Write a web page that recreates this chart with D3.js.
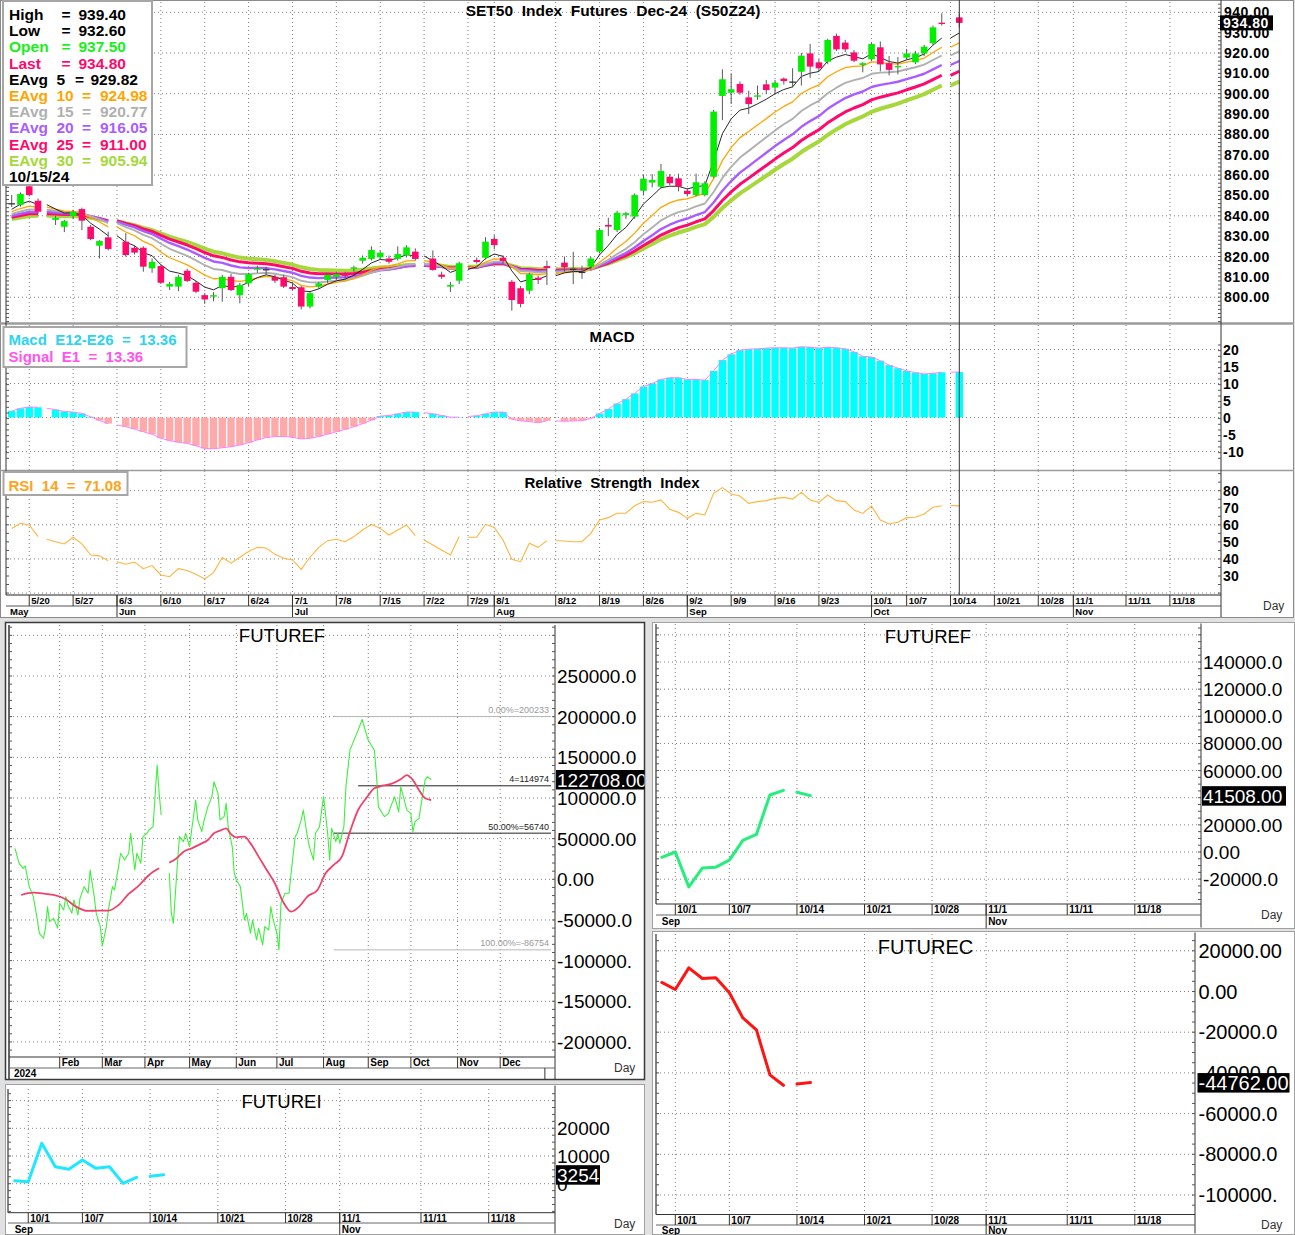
<!DOCTYPE html>
<html>
<head>
<meta charset="utf-8">
<title>SET50 Index Futures Dec-24 (S50Z24)</title>
<script src="https://cdn.jsdelivr.net/npm/d3@7/dist/d3.min.js"></script>
<style>
  html, body { margin:0; padding:0; background:#fff; }
  svg { display:block; }
  text { font-family: Arial, "Liberation Sans", Helvetica, sans-serif; white-space: pre; }
</style>
</head>
<body>
<svg id="chart" width="1295" height="1235" xmlns="http://www.w3.org/2000/svg"></svg>
<script>
// ======================= DATA =======================
// Trading calendar of the candle chart (weekdays, holidays have no OHLC)
const barDates = ["5/16","5/17","5/20","5/21","5/22","5/23","5/24","5/27","5/28","5/29","5/30","5/31",
 "6/3","6/4","6/5","6/6","6/7","6/10","6/11","6/12","6/13","6/14","6/17","6/18","6/19","6/20","6/21","6/24","6/25","6/26","6/27","6/28",
 "7/1","7/2","7/3","7/4","7/5","7/8","7/9","7/10","7/11","7/12","7/15","7/16","7/17","7/18","7/19","7/22","7/23","7/24","7/25","7/26","7/29","7/30","7/31",
 "8/1","8/2","8/5","8/6","8/7","8/8","8/9","8/12","8/13","8/14","8/15","8/16","8/19","8/20","8/21","8/22","8/23","8/26","8/27","8/28","8/29","8/30",
 "9/2","9/3","9/4","9/5","9/6","9/9","9/10","9/11","9/12","9/13","9/16","9/17","9/18","9/19","9/20","9/23","9/24","9/25","9/26","9/27","9/30",
 "10/1","10/2","10/3","10/4","10/7","10/8","10/9","10/10","10/11","10/14","10/15"];

const opens = [846.2,845.4,854.5,847.4,null,838.0,834.6,839.9,843.3,834.6,825.3,829.4,
 null,827.3,824.3,824.3,814.2,815.3,805.2,805.2,813.0,807.1,801.0,800.3,804.4,810.0,801.0,806.8,813.5,813.8,810.0,809.8,
 805.0,804.9,795.4,805.2,808.5,810.0,811.5,813.9,817.9,818.8,819.6,819.0,818.9,820.6,822.4,null,819.0,811.1,805.2,808.1,null,818.3,819.4,
 828.6,819.4,807.6,804.4,803.2,809.6,815.3,null,817.0,814.0,812.5,815.0,822.4,835.5,833.0,840.4,839.6,852.3,856.3,854.3,859.2,858.4,
 852.3,850.2,850.2,859.2,898.9,900.5,904.8,898.2,898.5,904.6,903.0,907.4,906.0,910.8,919.8,915.4,915.7,928.4,925.1,920.3,914.1,
 916.9,922.8,915.0,913.0,917.7,915.4,919.8,924.8,934.9,null,937.5];

const highs = [850.2,851.5,856.5,848.5,null,840.0,838.0,843.0,844.0,835.5,828.0,832.2,
 null,831.5,825.5,825.0,819.0,816.0,807.5,811.0,814.0,808.0,802.0,802.5,811.0,811.5,807.0,812.0,815.5,815.0,811.0,811.0,
 807.5,805.5,802.5,807.5,811.8,812.5,812.5,815.5,820.5,825.0,823.0,820.5,825.0,825.5,824.0,null,823.0,812.5,807.5,817.5,null,819.5,829.5,
 830.5,820.5,808.5,805.5,812.0,810.5,818.0,null,820.0,822.3,815.5,819.8,834.0,839.0,842.5,842.0,851.0,860.0,860.5,865.5,860.5,860.7,
 853.5,860.7,857.0,892.0,912.0,910.0,906.0,901.5,904.0,906.8,906.8,908.0,912.5,920.0,924.5,917.0,927.0,929.5,926.5,921.5,915.5,
 925.0,925.7,918.5,918.0,922.0,921.0,924.0,933.5,939.5,null,939.4];

const lows = [844.3,844.5,849.5,841.0,null,835.5,832.0,838.5,833.0,828.0,819.0,823.0,
 null,820.0,821.0,812.5,812.0,806.5,803.5,803.0,807.5,802.0,796.7,798.0,797.8,803.0,797.0,805.5,812.0,811.0,807.0,804.5,
 803.5,794.0,794.5,804.0,807.0,808.5,809.0,812.5,816.5,818.0,818.5,816.5,818.0,819.5,818.0,null,813.0,809.0,802.5,806.5,null,816.5,818.5,
 823.5,816.5,793.4,795.0,801.5,806.5,806.0,null,812.5,806.4,809.0,813.5,821.5,830.0,832.0,838.5,838.5,850.0,854.0,853.5,855.0,852.0,
 849.5,849.5,849.5,858.5,887.0,895.0,899.5,890.0,897.0,899.8,900.0,904.5,903.0,904.0,907.8,911.0,914.5,921.0,920.5,915.5,910.5,
 916.0,911.0,909.0,909.5,916.5,914.5,918.5,924.0,933.5,null,932.6];

const closes = [846.2,850.7,850.2,842.0,null,839.0,837.4,842.0,837.6,828.6,827.6,823.7,
 null,820.7,821.9,815.0,817.4,807.1,806.5,810.0,808.0,802.7,798.9,801.0,810.0,803.5,806.0,811.3,814.2,813.8,808.1,805.2,
 804.0,795.4,802.0,806.8,811.0,811.3,810.5,814.7,819.4,823.2,821.9,817.4,821.2,824.5,818.8,null,813.4,810.0,806.0,816.7,null,817.3,827.3,
 825.6,817.8,798.6,796.7,811.3,808.5,814.3,null,814.7,814.0,812.5,819.0,833.0,834.7,841.5,841.3,850.2,858.2,857.6,862.0,856.0,854.3,
 850.7,856.5,856.0,891.2,907.1,902.2,900.5,894.9,899.2,901.8,905.4,906.2,906.0,918.7,913.3,912.5,926.4,921.8,921.8,916.2,915.0,
 924.4,914.4,911.7,913.6,919.8,919.8,923.1,932.6,934.3,null,934.8];

// MACD (E12-E26) histogram, signal E1 equals it
const macdHist = [1.9,2.7,3.1,3.0,2.7,2.3,1.8,1.6,1.2,0.2,-0.9,-1.8,
 -2.2,-2.7,-3.4,-4.2,-4.9,-6.1,-6.8,-7.3,-7.6,-8.3,-9.1,-9.2,-8.9,-8.6,-8.1,-7.4,-6.6,-5.9,-5.6,-5.6,
 -5.8,-6.3,-6.1,-5.6,-4.9,-4.2,-3.5,-2.7,-1.8,-0.8,0.4,0.6,1.1,1.6,1.6,1.4,1.1,0.6,0.1,0.1,0.3,0.5,1.1,
 1.6,1.6,-0.5,-1.0,-1.2,-1.5,-1.0,-1.0,-1.1,-1.0,-0.9,-0.3,1.2,2.5,4.1,5.4,7.1,9.1,10.0,11.2,11.7,11.7,
 11.2,11.2,11.0,13.7,16.9,18.6,19.8,20.1,20.2,20.4,20.5,20.5,20.4,20.8,20.7,20.4,20.7,20.5,20.2,19.3,18.0,
 17.8,16.7,15.4,14.5,13.7,13.2,12.8,13.0,13.3,13.36,13.36];

// RSI 14
const rsi14 = [57.9,60.9,59.9,53.1,51.5,50.1,48.8,52.7,48.8,42.3,41.8,39.0,
 38.4,36.9,38.2,34.3,36.1,30.6,29.6,34.3,33.2,31.0,28.3,32.0,40.8,37.5,41.0,44.3,46.8,46.4,42.7,40.4,
 39.4,33.9,41.0,46.8,50.7,51.5,50.1,53.1,57.0,60.3,57.9,54.0,57.0,59.9,53.7,51.1,48.2,45.3,42.3,53.1,52.7,52.7,60.3,
 58.5,51.1,39.8,38.4,49.2,46.8,50.7,50.7,50.5,50.1,50.1,55.0,62.8,64.2,66.8,66.8,71.2,73.6,73.2,74.6,69.1,67.3,
 63.8,66.7,65.8,78.5,81.8,78.1,76.9,72.6,73.6,74.2,75.5,76.1,75.1,79.0,74.6,73.2,77.5,74.2,73.6,68.7,66.7,
 71.0,62.8,60.5,61.5,64.2,64.4,66.4,70.3,71.2,71.3,71.08];

// Exponential averages shown on the price chart (periods, starting values read at 5/16, legend values)
const emaPeriods = [5, 10, 15, 20, 25, 30];
const emaStart   = [843.2, 842.0, 840.9, 840.0, 839.3, 838.4];
const emaLegend  = ["929.82", "924.98", "920.77", "916.05", "911.00", "905.94"];

const priceTicks = [940,930,920,910,900,890,880,870,860,850,840,830,820,810,800];
const macdTicks  = [20,15,10,5,0,-5,-10];
const rsiTicks   = [80,70,60,50,40,30];
const topWeekTicks = ["5/20","5/27","6/3","6/10","6/17","6/24","7/1","7/8","7/15","7/22","7/29","8/1","8/12","8/19","8/26",
  "9/2","9/9","9/16","9/23","10/1","10/7","10/14","10/21","10/28","11/1","11/11","11/18"];
const topMonthTicks = [["5/16","May"],["6/3","Jun"],["7/1","Jul"],["8/1","Aug"],["9/2","Sep"],["10/1","Oct"],["11/1","Nov"]];

// FUTUREF long view (trading-day index from 2024-01-01, weekdays)
const ffDayIdx = [1,3,5,6,8,10,12,13,15,16,17,18,20,22,23,25,26,27,29,30,32,33,35,37,38,40,41,43,44,46,47,49,50,52,53,55,57,58,60,61,63,64,66,67,69,71,72,73,
  null,
  77,78,79,81,82,84,85,87,88,90,91,93,94,96,98,99,101,102,104,105,106,108,109,110,112,114,115,117,118,120,121,123,124,126,127,128,130,131,132,134,136,137,139,140,142,143,145,146,148,149,151,153,155,156,157,159,160,161,163,164,166,167,169,170,172,174,175,177,178,179,180,182,183,185,186,188,190,191,193,194,196,197,198,200,201,203,204,206];
const ffNet = [38100,19700,13500,16400,-9000,-21300,-50000,-66400,-72500,-60200,-33600,-52000,-48000,-60000,-29500,-37700,-21300,-31600,-41800,-25400,-43800,-23400,-9000,-17200,11500,-21300,-41800,-58200,-82000,-58200,-37700,-9000,-13100,15600,32000,23800,32000,56600,11500,32000,19700,52500,56600,60600,64700,140500,105700,79000,
  null,
  7400,-41800,-54100,19700,52500,46400,56600,40200,60600,97500,73000,58600,71000,89400,101700,120000,105700,73000,77000,93400,64700,40200,7400,-800,-9000,-50000,-41800,-66400,-50000,-74500,-60200,-80700,-58200,-62300,-33600,-48000,-66400,-86900,-29500,-17200,-17200,7400,52500,56600,73000,85200,52500,40200,23800,56600,64700,101700,56600,23800,62700,46400,56600,44200,64700,113900,159000,165000,177300,183400,196500,179300,171100,162900,158800,130100,89100,81000,77000,81000,89100,101400,82900,113600,95200,85000,81000,58500,70800,74900,91300,122000,126100,122708];
const ffAvgIdx = [4,10,16,20,26,31,37,42,47,52,57,62,67,72,null,77,80,84,88,92,96,99,102,105,107,110,114,117,121,125,129,133,137,141,145,150,154,158,162,166,170,174,178,182,187,191,194,197,200,203,206];
const ffAvg    = [-19300,-16400,-18000,-19300,-24600,-33600,-38900,-38500,-38500,-31600,-18000,-7800,5300,13500,null,20500,24600,34000,38100,43000,48300,56600,59800,62700,56600,51600,52500,44200,27900,11500,-4900,-27400,-39700,-33600,-21300,-13100,7400,17600,27900,58600,85200,99600,111900,115100,118000,122900,128200,122000,109800,99600,97500];
const bfTickVals   = [250000,200000,150000,100000,50000,0,-50000,-100000,-150000,-200000];
const bfTickLabels = ["250000.0","200000.0","150000.0","100000.0","50000.00","0.00","-50000.0","-100000.","-150000.","-200000."];
const bfMonthLabels = ["Feb","Mar","Apr","May","Jun","Jul","Aug","Sep","Oct","Nov","Dec"];
const bfLevels = [
  {val:200233, text:"0.00%=200233", from:"2024-08-08", color:"#b8b8b8", tcolor:"#9a9a9a"},
  {val:114974, text:"4=114974",     from:"2024-08-26", color:"#222",    tcolor:"#222"},
  {val:56740,  text:"50.00%=56740", from:"2024-08-08", color:"#222",    tcolor:"#222"},
  {val:-86754, text:"100.00%=-86754", from:"2024-08-08", color:"#b8b8b8", tcolor:"#9a9a9a"}
];

// Short-window panels
const smallDates = ["9/30","10/1","10/2","10/3","10/4","10/7","10/8","10/9","10/10","10/11","10/14","10/15"];
const smallHolidays = ["10/14"];
const futureF = [-3900,0,-25700,-11800,-11200,-6000,8600,12900,42000,45400,44000,41508];
const futureC = [4450,970,11600,6400,6800,-580,-13000,-18800,-41000,-46100,-45500,-44762];
const futureI = [1080,720,14600,6100,5200,8550,5540,6140,120,2290,2700,3254];
const smallWeekTicks = ["10/1","10/7","10/14","10/21","10/28","11/1","11/11","11/18"];
const smallMonthTicks = [["9/30","Sep"],["11/1","Nov"]];
const rfTickVals = [140000,120000,100000,80000,60000,20000,0,-20000];
const rfTickLabels = ["140000.0","120000.0","100000.0","80000.00","60000.00","20000.00","0.00","-20000.0"];
const rcTickVals = [20000,0,-20000,-40000,-60000,-80000,-100000];
const rcTickLabels = ["20000.00","0.00","-20000.0","-40000.0","-60000.0","-80000.0","-100000."];
const fiTickVals = [20000,10000,0];
const fiTickLabels = ["20000","10000","0"];

// ======================= DRAWING =======================
const svg = d3.select("#chart");
const parseD = d3.timeParse("%Y-%m-%d");
const fmtMD = d3.timeFormat("%-m/%-d");
const isWk = d => d.getDay() !== 0 && d.getDay() !== 6;
function weekdayMap(a, b) {
  const days = d3.timeDay.range(parseD(a), parseD(b)).filter(isWk);
  return new Map(days.map((d, i) => [fmtMD(d), i]));
}
function dotLine(g, x1, y1, x2, y2, c) {
  return g.append("line").attr("x1", x1).attr("y1", y1).attr("x2", x2).attr("y2", y2)
    .attr("stroke", c || "#808080").attr("stroke-width", 1).attr("stroke-dasharray", "1,3");
}
function solid(g, x1, y1, x2, y2, c, w) {
  return g.append("line").attr("x1", x1).attr("y1", y1).attr("x2", x2).attr("y2", y2)
    .attr("stroke", c || "#333").attr("stroke-width", w || 1);
}
function txt(g, x, y, s, o) {
  o = o || {};
  const t = g.append("text").attr("x", x).attr("y", y).text(s)
    .attr("font-size", o.size || 12).attr("font-weight", o.weight || "normal")
    .attr("fill", o.fill || "#000");
  if (o.anchor) t.attr("text-anchor", o.anchor);
  if (o.ls) t.attr("letter-spacing", o.ls);
  return t;
}
// segments: a holiday point starts a new segment (the link into it is not drawn)
function holidaySegments(vals, isHol) {
  const segs = []; let cur = [];
  vals.forEach((v, i) => {
    if (v == null) return;
    if (isHol[i] && cur.length) { segs.push(cur); cur = []; }
    cur.push([i, v]);
  });
  if (cur.length) segs.push(cur);
  return segs;
}

svg.append("rect").attr("width", 1295).attr("height", 1235).attr("fill", "#e1e1e1");

// ---------------- TOP SECTION ----------------
const T = svg.append("g");
T.append("rect").attr("x", 0.5).attr("y", 0.5).attr("width", 1293).attr("height", 617).attr("fill", "#fff").attr("stroke", "#8a8a8a");

const topCal = weekdayMap("2024-05-16", "2024-11-30");
const barIdx = barDates.map(d => topCal.get(d));
const xT = d3.scaleLinear().domain([0, 108]).range([11.7, 959.3]);
const yP = d3.scaleLinear().domain([800, 940]).range([297.2, 12.3]);
const yM = d3.scaleLinear().domain([0, 20]).range([417.5, 349.5]);
const yR = d3.scaleLinear().domain([30, 80]).range([576, 490.7]);
const XL = 6, XR = 1221;
const PP = [2, 322], PM = [325, 470], PR = [471, 595];
const isHolTop = closes.map(c => c == null);

// grid
const weekXs = topWeekTicks.map(t => xT(topCal.get(t)));
[PP, PM, PR].forEach(([a, b]) => weekXs.forEach(x => dotLine(T, x, a, x, b)));
priceTicks.filter(v => v % 20 === 0).forEach(v => dotLine(T, XL, yP(v), XR, yP(v)));
[20, 10, 0, -10].forEach(v => dotLine(T, XL, yM(v), XR, yM(v)));
[80, 60, 40, 20].forEach(v => dotLine(T, XL, yR(v), XR, yR(v)));

// panel separators
solid(T, 0, 323.5, 1294, 323.5, "#9c9c9c", 2.5);
solid(T, 0, 470.5, 1294, 470.5, "#9c9c9c", 1.5);

// clip for price panel
const defs = svg.append("defs");
defs.append("clipPath").attr("id", "clipP").append("rect").attr("x", XL).attr("y", PP[0]).attr("width", XR - XL).attr("height", PP[1] - PP[0]);

// EMAs
function emaSeries(period, start) {
  const k = 2 / (period + 1); let e = start;
  return closes.map((c, i) => { if (i > 0 && c != null) e = e + k * (c - e); return e; });
}
const emaStyle = [
  {c: "#111111", w: 0.9}, {c: "#ffa500", w: 1.3}, {c: "#b0b0b0", w: 1.9},
  {c: "#a95cff", w: 2.4}, {c: "#ff0a6c", w: 3.0}, {c: "#a6d83c", w: 4.0}
];
const gP = T.append("g").attr("clip-path", "url(#clipP)");
const emaVals = emaPeriods.map((p, k) => emaSeries(p, emaStart[k]));
const lineP = d3.line().x(d => xT(barIdx[d[0]])).y(d => yP(d[1]));
emaVals.slice().reverse().forEach((vals, rk) => {
  const k = emaVals.length - 1 - rk;
  holidaySegments(vals, isHolTop).forEach(seg => {
    gP.append("path").attr("d", lineP(seg)).attr("fill", "none")
      .attr("stroke", emaStyle[k].c).attr("stroke-width", emaStyle[k].w).attr("stroke-linejoin", "round");
  });
});
// candles
const UP = "#00f000", DN = "#ff0a6c";
barDates.forEach((d, i) => {
  if (opens[i] == null) return;
  const x = xT(barIdx[i]);
  gP.append("line").attr("x1", x).attr("x2", x).attr("y1", yP(highs[i])).attr("y2", yP(lows[i])).attr("stroke", "#5a5a5a").attr("stroke-width", 1);
  const o = opens[i], c = closes[i];
  const col = c > o ? UP : (c < o ? DN : "#333");
  const y1 = yP(Math.max(o, c)), y2 = yP(Math.min(o, c));
  gP.append("rect").attr("x", x - 3.3).attr("width", 6.6).attr("y", y1).attr("height", Math.max(1.3, y2 - y1)).attr("fill", col);
});

// MACD histogram + signal
barDates.forEach((d, i) => {
  if (closes[i] == null) return;
  const v = macdHist[i], x = xT(barIdx[i]);
  T.append("rect").attr("x", x - 3.7).attr("width", 7.4)
    .attr("y", v >= 0 ? yM(v) : yM(0)).attr("height", Math.abs(yM(v) - yM(0)))
    .attr("fill", v >= 0 ? "#00ffff" : "#ffaaaa");
});
const lineM = d3.line().x(d => xT(barIdx[d[0]])).y(d => yM(d[1]));
holidaySegments(macdHist, isHolTop).forEach(seg =>
  T.append("path").attr("d", lineM(seg)).attr("fill", "none").attr("stroke", "#ff80ff").attr("stroke-width", 1));

// RSI
const lineR = d3.line().x(d => xT(barIdx[d[0]])).y(d => yR(d[1]));
holidaySegments(rsi14, isHolTop).forEach(seg =>
  T.append("path").attr("d", lineR(seg)).attr("fill", "none").attr("stroke", "#ffb53c").attr("stroke-width", 1.1));

// cursor line at last bar
solid(T, xT(108), 0, xT(108), 595, "#333", 1);

// axes
solid(T, XR, 0, XR, 617, "#333", 1);
solid(T, XL, 0, XL, 595, "#333", 1);
for (let v = 788; v <= 945; v += 2) { const y = yP(v); if (y < PP[0] || y > PP[1]) continue; solid(T, XR - 3, y, XR, y, "#555", 1); solid(T, XL, y, XL + 3, y, "#555", 1); }
for (let v = -12; v <= 23; v += 5 / 3) { const y = yM(v); if (y < PM[0] + 2 || y > PM[1]) continue; solid(T, XR - 3, y, XR, y, "#555", 1); solid(T, XL, y, XL + 3, y, "#555", 1); }
for (let v = 20; v <= 90; v += 5) { const y = yR(v); if (y < PR[0] + 2 || y > PR[1]) continue; solid(T, XR - 3, y, XR, y, "#555", 1); solid(T, XL, y, XL + 3, y, "#555", 1); }

priceTicks.forEach(v => txt(T, 1224, yP(v) + 5, v.toFixed(2), {size: 14, weight: "bold", ls: 0.5}));
macdTicks.forEach(v => txt(T, 1223, yM(v) + 5, String(v), {size: 14, weight: "bold", ls: 0.3}));
rsiTicks.forEach(v => txt(T, 1223, yR(v) + 5, String(v), {size: 14, weight: "bold", ls: 0.3}));
// last price box
const lastY = yP(closes[108]);
T.append("rect").attr("x", 1220).attr("y", lastY - 7.5).attr("width", 53).attr("height", 15).attr("fill", "#000");
txt(T, 1223, lastY + 5, closes[108].toFixed(2), {size: 14, weight: "bold", fill: "#fff", ls: 0.5});

// date axis
solid(T, XL, 595, XR, 595, "#222", 1);
solid(T, XL, 606, XR, 606, "#555", 1);
solid(T, 0, 617.5, 1294, 617.5, "#8a8a8a", 1);
topWeekTicks.forEach((t, k) => {
  const x = weekXs[k];
  solid(T, x, 595, x, 606, "#333", 1);
  txt(T, x + 2, 604, t, {size: 9.5, weight: "bold"});
});
topMonthTicks.forEach(([t, lab], k) => {
  const x = k === 0 ? XL + 2 : xT(topCal.get(t));
  if (k > 0) solid(T, x, 595, x, 617, "#333", 1);
  txt(T, x + 2, 615, lab, {size: 9.5, weight: "bold"});
});
txt(T, 1263, 610, "Day", {size: 12, fill: "#333"});

// titles
txt(T, 613, 16, "SET50  Index  Futures  Dec-24  (S50Z24)", {size: 15.5, weight: "bold", anchor: "middle"});
txt(T, 612, 342, "MACD", {size: 15, weight: "bold", anchor: "middle"});
txt(T, 612, 488, "Relative  Strength  Index", {size: 15, weight: "bold", anchor: "middle"});

// legend (price)
const LG = T.append("g");
LG.append("rect").attr("x", 3).attr("y", 1).attr("width", 149).attr("height", 184).attr("fill", "#fff").attr("stroke", "#a6a6a6").attr("stroke-width", 2);
const lgFs = 15.5;
const baseRows = [
  ["High", highs[108].toFixed(2), "#000"],
  ["Low", lows[108].toFixed(2), "#000"],
  ["Open", opens[108].toFixed(2), "#18f018"],
  ["Last", closes[108].toFixed(2), "#ff0a6c"]
];
baseRows.forEach(([lab, val, col], r) => {
  const y = 20 + r * 16.2;
  txt(LG, 9, y, lab, {size: lgFs, weight: "bold", fill: col});
  txt(LG, 61.5, y, "=", {size: lgFs, weight: "bold", fill: col});
  txt(LG, 78.5, y, val, {size: lgFs, weight: "bold", fill: col});
});
const emaLegColors = ["#000", "#ffa500", "#b0b0b0", "#a95cff", "#ff0a6c", "#a6d83c"];
emaPeriods.forEach((p, k) => {
  const y = 20 + (4 + k) * 16.2, col = emaLegColors[k];
  const two = p >= 10;
  txt(LG, 9, y, "EAvg", {size: lgFs, weight: "bold", fill: col});
  txt(LG, 56.5, y, String(p), {size: lgFs, weight: "bold", fill: col});
  txt(LG, two ? 82 : 75, y, "=", {size: lgFs, weight: "bold", fill: col});
  txt(LG, two ? 100 : 90.5, y, emaLegend[k], {size: lgFs, weight: "bold", fill: col});
});
txt(LG, 9, 20 + 10 * 16.2, "10/15/24", {size: lgFs, weight: "bold"});

// legend (MACD)
T.append("rect").attr("x", 3.5).attr("y", 327).attr("width", 183).attr("height", 40).attr("fill", "#fff").attr("stroke", "#a6a6a6").attr("stroke-width", 2);
txt(T, 8.5, 345, "Macd  E12-E26  =  " + macdHist[108].toFixed(2), {size: 15, weight: "bold", fill: "#2cd3f2"});
txt(T, 8.5, 361.5, "Signal  E1  =  " + macdHist[108].toFixed(2), {size: 15, weight: "bold", fill: "#ff55ee"});
// legend (RSI)
T.append("rect").attr("x", 3.5).attr("y", 472).attr("width", 124).attr("height", 23).attr("fill", "#fff").attr("stroke", "#a6a6a6").attr("stroke-width", 2);
txt(T, 8.5, 490.5, "RSI  14  =  " + rsi14[108].toFixed(2), {size: 15, weight: "bold", fill: "#ffa41a"});

// ---------------- BIG FUTUREF (left) ----------------
const B = svg.append("g");
B.append("rect").attr("x", 5.5).attr("y", 622.5).attr("width", 639).attr("height", 457).attr("fill", "#fff").attr("stroke", "#3a3a3a").attr("stroke-width", 1.5);
defs.append("clipPath").attr("id", "clipBpanel").append("rect").attr("x", 5.5).attr("y", 622.5).attr("width", 639).attr("height", 457);
defs.append("clipPath").attr("id", "clipBplot").append("rect").attr("x", 9).attr("y", 625).attr("width", 546).attr("height", 432);
const bfDays = d3.timeDay.range(parseD("2024-01-01"), parseD("2025-01-10")).filter(isWk);
const xB = d3.scaleLinear().domain([0, 240]).range([13, 500.2]);
const yB = d3.scaleLinear().domain([0, 250000]).range([879.3, 676]);
const bL = 9, bR = 555, bT = 625, bBt = 1057;
const bMonthIdx = bfMonthLabels.map((m, k) => bfDays.findIndex(d => d.getFullYear() === 2024 && d.getMonth() === k + 1));
const bYearIdx = bfDays.findIndex(d => d.getFullYear() === 2025);
// grid
[300000].concat(bfTickVals).forEach(v => dotLine(B, bL, yB(v), bR, yB(v)));
bMonthIdx.forEach(i => dotLine(B, xB(i), bT, xB(i), bBt));
// axes
solid(B, bL, bT, bL, 1079, "#333", 1.5);
solid(B, bR, bT, bR, 1079, "#333", 1);
for (let v = -220000; v <= 310000; v += 10000) { const y = yB(v); if (y < bT || y > bBt) continue; solid(B, bL, y, bL + 3, y, "#555"); solid(B, bR - 3, y, bR, y, "#555"); }
solid(B, bL, bBt, bR, bBt, "#333", 1);
solid(B, bL, 1068, bR, 1068, "#666", 1);
bMonthIdx.forEach((i, k) => { const x = xB(i); solid(B, x, bBt, x, 1068, "#333"); txt(B, x + 2, 1066, bfMonthLabels[k], {size: 10, weight: "bold"}); });
solid(B, xB(bYearIdx), 1068, xB(bYearIdx), 1079, "#333");
txt(B, 14, 1077, "2024", {size: 10, weight: "bold"});
txt(B, 614, 1072, "Day", {size: 12, fill: "#333"});
// level lines
const bLines = B.append("g").attr("clip-path", "url(#clipBplot)");
bfLevels.forEach(L => {
  const i0 = bfDays.findIndex(d => +d >= +parseD(L.from));
  const y = yB(L.val);
  solid(bLines, xB(i0), y, 551, y, L.color, 1);
  txt(bLines, 549, y - 3.5, L.text, {size: 9, anchor: "end", fill: L.tcolor});
});
// series
const gB = B.append("g").attr("clip-path", "url(#clipBplot)");
function idxSegments(idx, vals) {
  const segs = []; let cur = [];
  idx.forEach((d, k) => { if (d == null || vals[k] == null) { if (cur.length) segs.push(cur); cur = []; } else cur.push([d, vals[k]]); });
  if (cur.length) segs.push(cur);
  return segs;
}
const lineB = d3.line().x(d => xB(d[0])).y(d => yB(d[1]));
const lineBs = d3.line().x(d => xB(d[0])).y(d => yB(d[1])).curve(d3.curveMonotoneX);
idxSegments(ffDayIdx, ffNet).forEach(s => gB.append("path").attr("d", lineB(s)).attr("fill", "none").attr("stroke", "#3cf03c").attr("stroke-width", 1.1).attr("stroke-linejoin", "round"));
idxSegments(ffAvgIdx, ffAvg).forEach(s => gB.append("path").attr("d", lineBs(s)).attr("fill", "none").attr("stroke", "#f0416a").attr("stroke-width", 1.8));
// title & labels
txt(B, 282, 641.5, "FUTUREF", {size: 18.5, anchor: "middle"});
const gBl = B.append("g").attr("clip-path", "url(#clipBpanel)");
bfTickVals.forEach((v, k) => txt(gBl, 557, yB(v) + 7, bfTickLabels[k], {size: 19}));
const bLast = ffNet[ffNet.length - 1];
gBl.append("rect").attr("x", 556).attr("y", yB(bLast) - 9.5).attr("width", 95).attr("height", 19.5).attr("fill", "#000");
txt(gBl, 557, yB(bLast) + 7, bLast.toFixed(2), {size: 19, fill: "#fff"});

// ---------------- small panels ----------------
const smallCal = weekdayMap("2024-09-30", "2024-11-30");
const smallIdx = smallDates.map(d => smallCal.get(d));
const smallHol = smallDates.map(d => smallHolidays.includes(d));

function smallPanel(c) {
  const g = svg.append("g");
  const [px, py, pw, ph] = c.panel;
  g.append("rect").attr("x", px).attr("y", py).attr("width", pw).attr("height", ph).attr("fill", "#fff").attr("stroke", "#a0a0a0");
  defs.append("clipPath").attr("id", c.id + "P").append("rect").attr("x", px).attr("y", py).attr("width", pw).attr("height", ph);
  defs.append("clipPath").attr("id", c.id + "C").append("rect").attr("x", c.l).attr("y", c.t).attr("width", c.r - c.l).attr("height", c.b - c.t);
  const x = d3.scaleLinear().domain([0, 35]).range(c.xRange);
  const y = d3.scaleLinear().domain(c.yDomain).range(c.yRange);
  c.grid.forEach(v => { const yy = y(v); if (yy < c.t + 2 || yy > c.b - 2) return; dotLine(g, c.l, yy, c.r, yy); });
  smallWeekTicks.forEach(tk => { const xx = x(smallCal.get(tk)); dotLine(g, xx, c.t, xx, c.b); });
  solid(g, c.l, c.t, c.l, c.b, "#333", 1.2);
  solid(g, c.r, py + 1, c.r, py + ph - 1, "#333", 1);
  for (let v = c.minor[0]; v <= c.minor[1]; v += c.minor[2]) {
    const yy = y(v); if (yy < c.t || yy > c.b) continue;
    solid(g, c.l, yy, c.l + 3, yy, "#555"); solid(g, c.r - 3, yy, c.r, yy, "#555");
  }
  solid(g, c.l, c.b, c.r, c.b, "#333", 1);
  solid(g, c.l, c.sep, c.r, c.sep, "#666", 1);
  smallWeekTicks.forEach(tk => { const xx = x(smallCal.get(tk)); solid(g, xx, c.b, xx, c.sep, "#333"); txt(g, xx + 2, c.row1, tk, {size: 10, weight: "bold"}); });
  smallMonthTicks.forEach(([tk, lab], k) => {
    const xx = x(smallCal.get(tk));
    if (k > 0) solid(g, xx, c.b, xx, py + ph, "#333");
    txt(g, xx + (k > 0 ? 2 : 0), c.row2, lab, {size: 10, weight: "bold"});
  });
  // data
  const gd = g.append("g").attr("clip-path", "url(#" + c.id + "C)");
  const ln = d3.line().x(d => x(smallIdx[d[0]])).y(d => y(d[1]));
  holidaySegments(c.data, smallHol).forEach(s => gd.append("path").attr("d", ln(s)).attr("fill", "none")
    .attr("stroke", c.color).attr("stroke-width", 3).attr("stroke-linejoin", "round").attr("stroke-linecap", "round"));
  // title
  txt(g, c.title[0], c.title[1], c.name, {size: c.titleSize, anchor: "middle"});
  // labels
  const gl = g.append("g").attr("clip-path", "url(#" + c.id + "P)");
  c.tickVals.forEach((v, k) => txt(gl, c.labelX, y(v) + 7, c.tickLabels[k], {size: c.fs}));
  const last = c.data[c.data.length - 1];
  gl.append("rect").attr("x", c.labelX - 1).attr("y", y(last) - 9.5).attr("width", c.boxW).attr("height", 19.5).attr("fill", "#000");
  txt(gl, c.labelX, y(last) + 7, c.lastText, {size: c.fs, fill: "#fff"});
  txt(g, c.day[0], c.day[1], "Day", {size: 12, fill: "#333"});
}

smallPanel({
  id: "rf", name: "FUTUREF", panel: [652.5, 622.5, 642, 306], l: 656, r: 1201, t: 624, b: 904,
  sep: 915, row1: 913, row2: 924.5, xRange: [661.8, 1134.8], yDomain: [0, 140000], yRange: [852, 662],
  grid: [160000,140000,120000,100000,80000,60000,40000,20000,0,-20000], minor: [-40000, 170000, 5000],
  data: futureF, color: "#24ee7c", title: [928, 642.5], titleSize: 18.5,
  tickVals: rfTickVals, tickLabels: rfTickLabels, labelX: 1203, fs: 19, boxW: 84,
  lastText: futureF[futureF.length - 1].toFixed(2), day: [1261, 919]
});
smallPanel({
  id: "rc", name: "FUTUREC", panel: [652.5, 931.5, 642, 303], l: 656, r: 1195, t: 934, b: 1214.5,
  sep: 1225, row1: 1223.5, row2: 1234, xRange: [661.8, 1134.8], yDomain: [0, 20000], yRange: [991.5, 950.8],
  grid: [20000,0,-20000,-40000,-60000,-80000,-100000], minor: [-110000, 30000, 5000],
  data: futureC, color: "#ff1414", title: [925.5, 954], titleSize: 20,
  tickVals: rcTickVals, tickLabels: rcTickLabels, labelX: 1198.5, fs: 20, boxW: 92,
  lastText: futureC[futureC.length - 1].toFixed(2), day: [1261, 1229]
});
smallPanel({
  id: "fi", name: "FUTUREI", panel: [5.5, 1084.5, 639, 150], l: 8, r: 555, t: 1089, b: 1212.7,
  sep: 1223, row1: 1221.5, row2: 1232.5, xRange: [14.7, 488.7], yDomain: [0, 20000], yRange: [1183.7, 1128.3],
  grid: [30000,20000,10000,0,-10000], minor: [-20000, 40000, 2500],
  data: futureI, color: "#1ee8ff", title: [281.5, 1108], titleSize: 18.5,
  tickVals: fiTickVals, tickLabels: fiTickLabels, labelX: 557, fs: 19, boxW: 44,
  lastText: String(futureI[futureI.length - 1]), day: [614, 1228]
});
</script>
</body>
</html>
